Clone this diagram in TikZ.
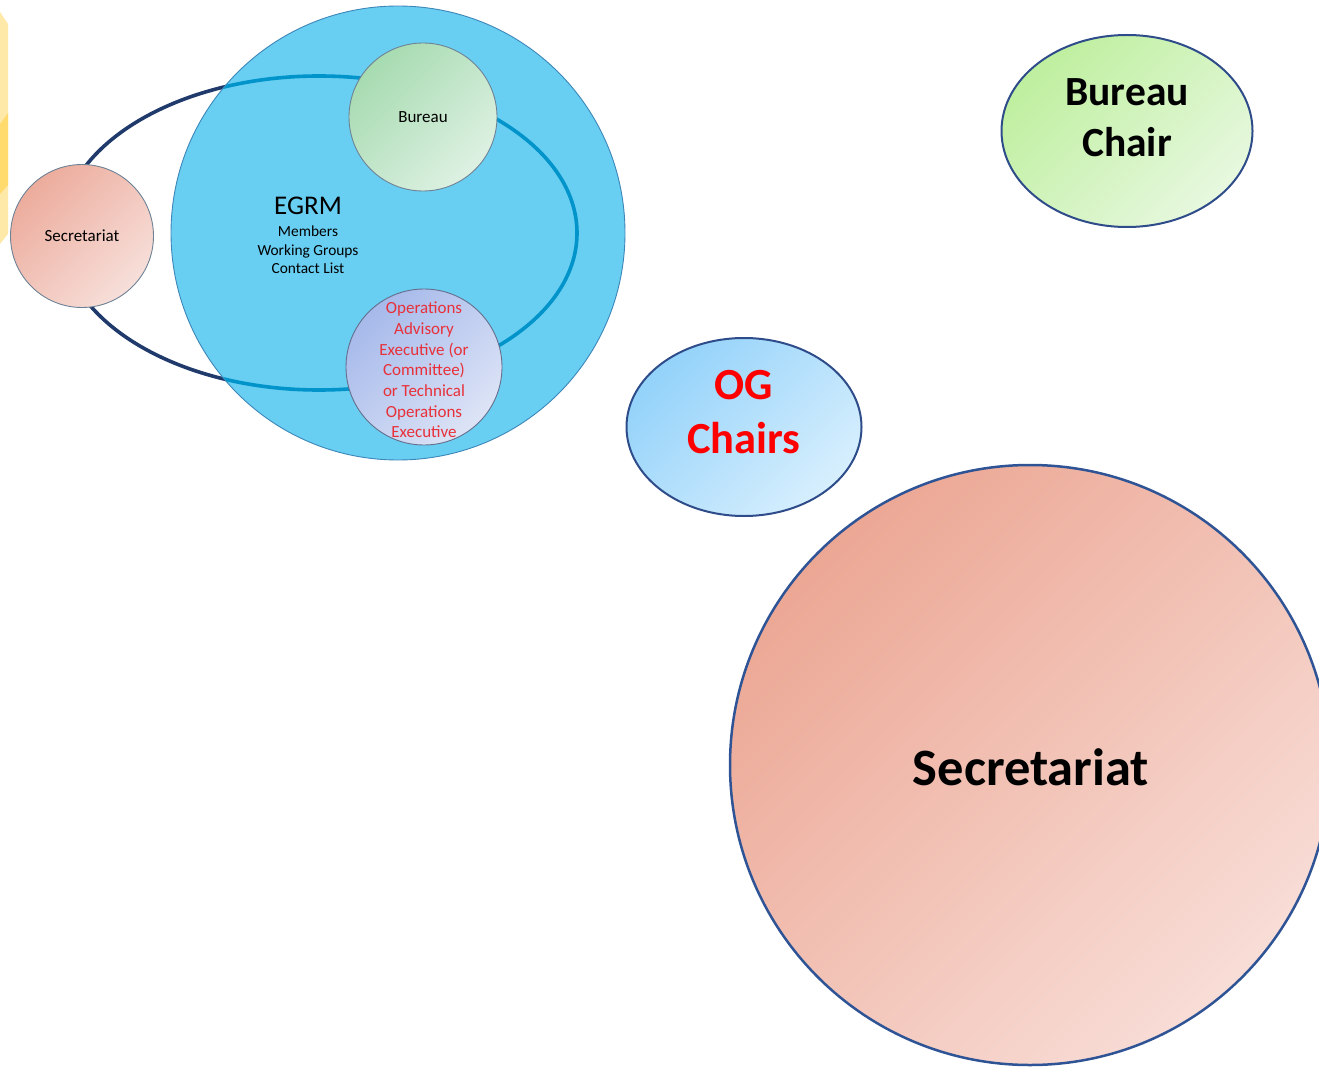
\documentclass[tikz,border=0pt]{standalone}
\usepackage{fontspec}
\setmainfont{Carlito}
\usetikzlibrary{shapes.geometric}
\definecolor{yellowlight}{HTML}{FFE9A8}
\definecolor{yellowdark}{HTML}{FFDB6E}
\definecolor{egrmfill}{HTML}{68CEF2}
\definecolor{egrmborder}{HTML}{3D87B8}
\definecolor{navyline}{HTML}{203B6B}
\definecolor{innerline}{HTML}{0094CA}
\definecolor{greenA}{HTML}{A6DBB0}
\definecolor{greenB}{HTML}{DEF1E3}
\definecolor{lavA}{HTML}{A6B9EA}
\definecolor{lavB}{HTML}{DDE4F6}
\definecolor{pinkA}{HTML}{ECAC9C}
\definecolor{pinkB}{HTML}{F7DFDA}
\definecolor{chairA}{HTML}{BEEF9E}
\definecolor{chairB}{HTML}{E7F8DF}
\definecolor{ogA}{HTML}{93D2FA}
\definecolor{ogB}{HTML}{D7EFFD}
\definecolor{bigA}{HTML}{ECA794}
\definecolor{bigB}{HTML}{F8DDD7}
\definecolor{darkborder}{HTML}{2F4C8A}
\definecolor{bigborder}{HTML}{2F5496}
\definecolor{opsred}{HTML}{E8303A}
\definecolor{ogred}{HTML}{FF0000}
\definecolor{thinborder}{HTML}{6E8296}
\tikzset{
  smallcircle/.style={circle, draw=thinborder, line width=0.9pt, inner sep=0pt, align=center},
  bigoval/.style={ellipse, draw=darkborder, line width=2pt, inner sep=0pt, align=center},
  diag/.style 2 args={top color=#1, bottom color=#2, shading angle=45},
  smalltext/.style={font=\fontsize{17}{20.7}\selectfont},
  listtext/.style={font=\fontsize{15.4}{18.6}\selectfont},
}
\begin{document}
\begin{tikzpicture}[x=1pt,y=-1pt]
\useasboundingbox (0,0) rectangle (1319,1067);
% yellow shape at left edge
\fill[yellowlight] (0,12) -- (8,24) -- (8,234) -- (0,244) -- cycle;
\fill[yellowdark] (0,124) -- (8,113) -- (8,185) -- (0,194) -- cycle;
% navy loop
\draw[navyline, line width=3.6pt] (319,233) ellipse [x radius=258pt, y radius=157pt];
% EGRM circle
\node[circle, draw=egrmborder, line width=0.9pt, fill=egrmfill, minimum size=454pt, inner sep=0pt] (egrm) at (398,233) {};
\begin{scope}
  \clip (398,233) circle [radius=226.5pt];
  \draw[innerline, line width=3.6pt] (319,233) ellipse [x radius=258pt, y radius=157pt];
\end{scope}
\node[font=\fontsize{27}{30}\selectfont] (egrmtitle) at (308,206) {EGRM};
\node[listtext, align=center] (egrmlist) at (308,250) {Members\\Working Groups\\Contact List};
% Bureau small
\node[smallcircle, diag={greenA}{greenB}, minimum size=148pt, smalltext] (bureau) at (423,117) {Bureau};
% Operations
\node[smallcircle, draw=lavA!60!black, diag={lavA}{lavB}, minimum size=156pt] (ops) at (424,367) {};
\node[smalltext, text=opsred, align=center] (opstext) at (424,370) {Operations\\Advisory\\Executive (or\\Committee)\\or Technical\\Operations\\Executive};
% Secretariat small
\node[smallcircle, diag={pinkA}{pinkB}, minimum size=143pt, smalltext] (secsmall) at (82,236) {Secretariat};
% Bureau Chair
\node[bigoval, diag={chairA}{chairB}, minimum width=251pt, minimum height=192pt] (bchair) at (1127,131) {};
\node[font=\fontsize{41.5}{51}\selectfont\bfseries, align=center] (bchairtext) at (1127,118) {Bureau\\Chair};
% OG Chairs
\node[bigoval, diag={ogA}{ogB}, minimum width=235pt, minimum height=178pt] (og) at (744,427) {};
\node[font=\fontsize{44.5}{54}\selectfont\bfseries, text=ogred, align=center] (ogtext) at (744,412) {OG\\Chairs};
% Big Secretariat
\node[circle, draw=bigborder, line width=2.5pt, inner sep=0pt, diag={bigA}{bigB}, minimum size=600pt] (secbig) at (1030,765) {};
\node[font=\fontsize{52.5}{60}\selectfont\bfseries] (secbigtext) at (1031,767) {Secretariat};
\end{tikzpicture}
\end{document}
